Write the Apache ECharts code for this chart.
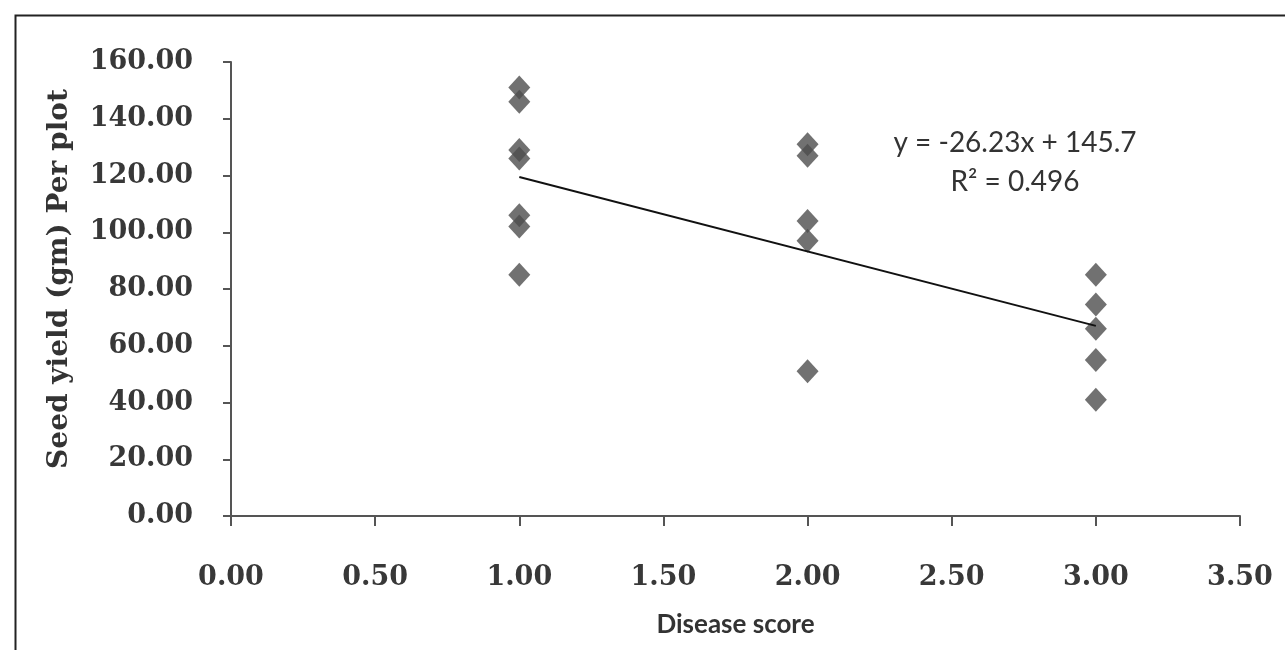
<!DOCTYPE html>
<html><head><meta charset="utf-8">
<script src="https://cdn.jsdelivr.net/npm/echarts@6/dist/echarts.min.js"></script>
<style>html,body{margin:0;padding:0;background:#fff}#c{width:1285px;height:650px}</style>
</head><body><div id="c"></div>
<script>
// Data
var xScores = [1, 1, 1, 1, 1, 1, 1, 2, 2, 2, 2, 2, 3, 3, 3, 3, 3];
var seedYield = [151, 146, 129, 126, 106, 102, 85, 131, 127, 104, 97, 51, 85, 74.5, 66, 55, 41];
var trendSlope = -26.23;
var trendIntercept = 145.7;
var trendRange = [1, 3];
var equationText = 'y = -26.23x + 145.7';
var r2Text = 'R² = 0.496';
var xTitle = 'Disease score';
var yTitle = 'Seed yield (gm) Per plot';
var xTicks = ['0.00','0.50','1.00','1.50','2.00','2.50','3.00','3.50'];
var yTicks = ['0.00','20.00','40.00','60.00','80.00','100.00','120.00','140.00','160.00'];

var points = xScores.map(function(x, i){ return [x, seedYield[i]]; });
var trend = trendRange.map(function(x){ return [x, trendSlope * x + trendIntercept]; });

var chart = echarts.init(document.getElementById('c'));
var tickFont = {fontFamily: 'DejaVu Serif', fontWeight: 'bold', fontSize: 27, color: '#383838'};
chart.setOption({
  backgroundColor: '#ffffff',
  animation: false,
  grid: {left: 231, right: 45, top: 62, bottom: 134},
  xAxis: {
    type: 'value', min: 0, max: 3.5, interval: 0.5,
    name: xTitle, nameLocation: 'middle', nameGap: 96,
    nameTextStyle: {fontFamily: 'Lato', fontWeight: 'bold', fontSize: 26, color: '#333'},
    axisLine: {show: true, lineStyle: {color: '#555', width: 2}},
    axisTick: {show: true, length: 10, lineStyle: {color: '#555', width: 2}},
    splitLine: {show: false},
    axisLabel: Object.assign({margin: 48, formatter: function(v){ return xTicks[Math.round(v/0.5)]; }}, tickFont)
  },
  yAxis: {
    type: 'value', min: 0, max: 160, interval: 20,
    axisLine: {show: true, lineStyle: {color: '#555', width: 2}},
    axisTick: {show: true, length: 8, lineStyle: {color: '#555', width: 2}},
    splitLine: {show: false},
    axisLabel: Object.assign({margin: 38, formatter: function(v){ return yTicks[Math.round(v/20)]; }}, tickFont)
  },
  series: [
    {type: 'scatter', data: points, symbol: 'diamond', symbolSize: [22, 24],
     itemStyle: {color: '#4e4e4e'}, z: 3},
    {type: 'line', data: trend, symbol: 'none', lineStyle: {color: '#111', width: 2}, z: 4}
  ],
  graphic: [
    {type: 'rect', left: 13, top: 13, shape: {width: 1290, height: 660},
     style: {fill: 'none', stroke: '#222', lineWidth: 2}, silent: true},
    {type: 'text', x: 60, y: 279, rotation: Math.PI / 2,
     style: {text: yTitle, font: 'bold 28px "DejaVu Serif"', fill: '#333', align: 'center', verticalAlign: 'middle'}},
    {type: 'text', x: 1015, y: 143,
     style: {text: equationText, font: '28px Lato', fill: '#333', align: 'center', verticalAlign: 'middle'}},
    {type: 'text', x: 1015, y: 182,
     style: {text: r2Text, font: '28px Lato', fill: '#333', align: 'center', verticalAlign: 'middle'}}
  ]
});
</script></body></html>
